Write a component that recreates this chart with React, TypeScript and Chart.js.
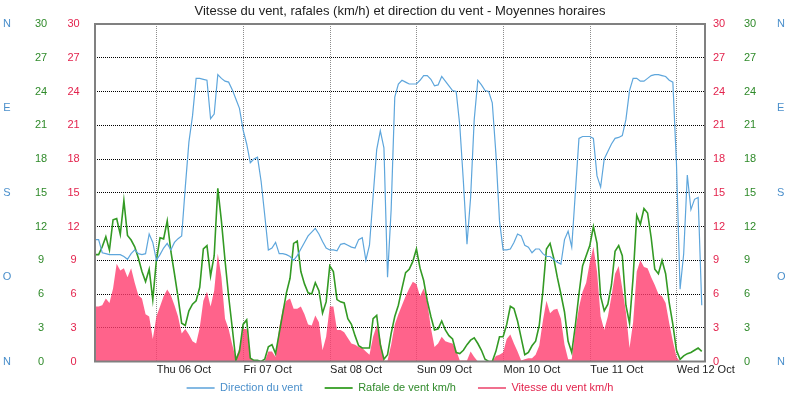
import React, { useEffect, useRef } from 'react';
import { Chart, registerables } from 'chart.js';

Chart.register(...registerables);

const TITLE = 'Vitesse du vent, rafales (km/h) et direction du vent - Moyennes horaires';
const dayLabels = ['Thu 06 Oct', 'Fri 07 Oct', 'Sat 08 Oct', 'Sun 09 Oct', 'Mon 10 Oct', 'Tue 11 Oct', 'Wed 12 Oct'];
const firstMidnightHour = 17.1; // hours after first hourly sample
const axisHours = 168.9;
const speedTicks = [0, 3, 6, 9, 12, 15, 18, 21, 24, 27, 30];
const directionLabels = ['N', 'O', 'S', 'E', 'N'];
const seriesLabels = ['Direction du vent', 'Rafale de vent km/h', 'Vitesse du vent km/h'];

// Vitesse du vent (km/h), hourly
const vitesse = [
  4.9, 4.9, 5.0, 5.6, 5.2, 6.5, 8.7, 8.1, 8.3, 7.5,
  8.3, 7.0, 5.9, 5.6, 4.2, 4.0, 2.0, 4.0, 4.9, 5.8,
  6.4, 5.9, 5.0, 4.0, 2.5, 2.9, 2.4, 1.8, 1.6, 3.0,
  5.4, 6.2, 4.9, 6.3, 9.6, 7.5, 3.8, 2.9, 1.5, 0.3,
  1.2, 2.9, 2.9, 0.4, 0, 0, 0, 0, 0.9, 0.9,
  0.4, 3.0, 4.7, 5.4, 5.6, 4.7, 4.7, 4.9, 4.2, 3.3,
  3.2, 4.1, 3.5, 1.0, 2.2, 4.9, 4.9, 2.8, 2.8, 2.6,
  2.1, 1.6, 1.5, 1.3, 1.2, 0.9, 0.6, 2.2, 3.2, 2.0,
  0.1, 0.1, 1.5, 3.3, 4.2, 5.0, 5.8, 6.5, 7.1, 6.9,
  5.8, 6.5, 5.3, 3.0, 1.3, 1.6, 2.2, 1.8, 1.7, 1.6,
  1.0, 0.1, 0.1, 0.1, 0.9, 0.4, 0, 0, 0, 0,
  0, 0.5, 0.6, 0.8, 2.0, 2.4, 1.6, 0.9, 0.1, 0.2,
  0.3, 0.3, 0.6, 1.4, 3.6, 5.4, 4.3, 4.6, 4.7, 3.8,
  1.5, 0.2, 0.2, 2.8, 4.8, 6.2, 7.0, 8.8, 10.2, 8.0,
  4.0, 2.8, 4.0, 5.8, 7.8, 8.5, 6.5, 4.4, 1.2, 3.5,
  8.0, 9.0, 8.4, 8.3, 7.5, 6.8, 6.0, 5.8, 5.2, 3.4,
  1.8, 0.4, 0, 0, 0, 0, 0, 0, 0,
];

// Rafale de vent (km/h), hourly
const rafale = [
  9.5, 9.5, 10.2, 11.1, 9.9, 12.6, 12.7, 11.3, 14.3, 11.2,
  10.8, 10.2, 9.2, 8.0, 7.1, 8.2, 5.5, 9.0, 11.0, 10.9,
  12.5, 9.8, 7.8, 5.7, 3.4, 3.2, 4.5, 5.1, 5.4, 6.6,
  10.0, 10.3, 7.6, 9.4, 15.4, 12.5, 9.0, 5.8, 3.0, 0.1,
  0.9, 3.3, 3.7, 0.3, 0.1, 0.1, 0.0, 0.2, 1.3, 1.5,
  0.7, 2.5, 4.3, 6.1, 7.4, 10.5, 10.7, 8.0, 6.9, 6.1,
  6.0, 7.0, 6.3, 4.3, 5.3, 8.5, 8.0, 5.5, 5.3, 5.2,
  3.8, 3.3, 2.3, 1.4, 1.2, 1.2, 1.2, 3.8, 4.1, 1.5,
  0.2, 0.6, 2.5, 4.0, 5.0, 6.5, 7.9, 8.2, 8.9, 10.0,
  8.3, 7.2, 5.4, 4.0, 2.8, 2.9, 3.6, 2.8, 2.3, 2.0,
  0.8, 0.7, 1.0, 1.5, 1.9, 2.1, 1.6, 1.0, 0.2, 0,
  0, 0.9, 2.2, 2.2, 3.3, 4.9, 4.7, 3.6, 2.1, 0.6,
  0.8, 1.4, 1.8, 3.2, 6.2, 10.0, 10.5, 9.2, 7.5, 6.0,
  4.4, 1.8, 0.8, 3.2, 6.0, 8.5, 9.4, 10.3, 12.0, 10.5,
  5.8, 4.5, 5.1, 6.8, 9.8, 10.3, 9.4, 5.0, 3.4, 7.5,
  13.0, 12.2, 13.6, 13.2, 11.0, 8.2, 7.8, 9.0, 7.8, 5.2,
  3.3, 1.0, 0.2, 0.5, 0.7, 0.8, 1.0, 1.2, 0.9,
];

// Direction du vent (degrees), hourly
const direction = [
  130, 130, 116, 115, 114, 114, 114, 114, 112, 109,
  115, 119, 115, 114, 115, 136, 127, 108, 114, 121,
  126, 119, 127, 131, 134, 186, 234, 262, 302, 302,
  301, 300, 259, 264, 306, 302, 299, 298, 290, 280,
  270, 247, 232, 212, 216, 218, 192, 156, 119, 121,
  127, 115, 115, 114, 112, 108, 113, 120, 127, 134,
  138, 142, 136, 128, 121, 119, 119, 118, 125, 126,
  124, 122, 121, 130, 132, 108, 124, 176, 226, 246,
  228, 90, 162, 282, 296, 300, 298, 296, 296, 296,
  300, 305, 305, 301, 294, 295, 304, 299, 294, 289,
  288, 252, 192, 125, 175, 258, 300, 295, 289, 288,
  276, 222, 150, 119, 119, 120, 127, 136, 134, 124,
  122, 116, 120, 120, 115, 112, 112, 109, 106, 104,
  130, 139, 122, 180, 238, 240, 240, 240, 238, 198,
  186, 216, 224, 232, 238, 239, 241, 258, 289, 302,
  302, 299, 299, 302, 305, 306, 306, 305, 304, 300,
  298, 211, 77, 115, 199, 162, 173, 175, 60,
];

const BLUE_LINE = '#5ea6dc';
const BLUE_TEXT = '#4a8fcb';
const GREEN_LINE = '#339a24';
const GREEN_TEXT = '#2f8a2a';
const RED_FILL = 'rgba(255, 60, 110, 0.8)';
const RED_TEXT = '#e3234d';
const RED_LEGEND = '#f0708e';
const BLUE_LEGEND = '#84b9e3';
const GREEN_LEGEND = '#4aa83a';

const FONT = '"Liberation Sans", Arial, sans-serif';

const toPoints = (arr: number[]) => arr.map((v, i) => ({ x: i, y: v }));

const fixedWidth = (w: number) => (scale: any) => {
  scale.width = w;
};

const framePlugin = {
  id: 'frame',
  afterDatasetsDraw(chart: any) {
    const { ctx, chartArea } = chart;
    ctx.save();
    ctx.strokeStyle = '#808080';
    ctx.lineWidth = 2;
    ctx.strokeRect(chartArea.left, chartArea.top, chartArea.right - chartArea.left, chartArea.bottom - chartArea.top);
    ctx.restore();
  },
};

const legendPlace = {
  id: 'legendPlace',
  beforeLayout(chart: any) {
    const lg = chart.legend;
    if (lg && !lg.__patched) {
      const orig = lg.fit.bind(lg);
      lg.fit = () => {
        orig();
        lg.height = 16;
      };
      lg.__patched = true;
    }
  },
  afterLayout(chart: any) {
    const lg = chart.legend;
    if (lg) {
      lg.top = lg.top - 21.5;
      lg.height = lg.bottom - lg.top;
    }
  },
};

export default function App() {
  const ref = useRef<HTMLCanvasElement | null>(null);

  useEffect(() => {
    if (!ref.current) return;
    Chart.defaults.font.family = FONT;
    const speedAxis = (color: string, position: 'left' | 'right', weight: number, width: number, padding: number, grid: boolean) => ({
      type: 'linear' as const,
      position,
      weight,
      min: 0,
      max: 30,
      afterBuildTicks: (s: any) => {
        s.ticks = speedTicks.map((v) => ({ value: v }));
      },
      afterFit: fixedWidth(width),
      ticks: {
        color,
        padding,
        font: { size: 11 },
        crossAlign: position === 'left' ? ('center' as const) : ('near' as const),
      },
      grid: grid
        ? { display: true, color: '#000000', lineWidth: 1, drawTicks: false }
        : { display: false, drawTicks: false },
      border: { display: false, dash: [1, 1] },
    });
    const dirAxis = (position: 'left' | 'right', width: number, padding: number) => ({
      type: 'linear' as const,
      position,
      weight: 2,
      min: 0,
      max: 360,
      afterBuildTicks: (s: any) => {
        s.ticks = directionLabels.map((_, i) => ({ value: i * 90 }));
      },
      afterFit: fixedWidth(width),
      ticks: {
        color: BLUE_TEXT,
        padding,
        font: { size: 11 },
        crossAlign: position === 'left' ? ('center' as const) : ('near' as const),
        callback: (_v: any, i: number) => directionLabels[i],
      },
      grid: { display: false, drawTicks: false },
      border: { display: false },
    });

    const chart = new Chart(ref.current, {
      type: 'line',
      data: {
        datasets: [
          {
            label: seriesLabels[0],
            data: toPoints(direction),
            yAxisID: 'yD',
            borderColor: BLUE_LINE,
            borderWidth: 1.2,
            pointRadius: 0,
            fill: false,
            tension: 0,
          },
          {
            label: seriesLabels[1],
            data: toPoints(rafale),
            yAxisID: 'yG',
            borderColor: GREEN_LINE,
            borderWidth: 1.6,
            pointRadius: 0,
            fill: false,
            tension: 0,
          },
          {
            label: seriesLabels[2],
            data: toPoints(vitesse),
            yAxisID: 'y',
            borderColor: RED_FILL,
            backgroundColor: RED_FILL,
            borderWidth: 0,
            pointRadius: 0,
            fill: 'origin',
            tension: 0,
          },
        ],
      },
      options: {
        animation: false,
        responsive: false,
        maintainAspectRatio: false,
        layout: { padding: 0 },
        plugins: {
          title: {
            display: true,
            text: TITLE,
            color: '#222222',
            font: { size: 13, weight: 'normal' },
            padding: { top: 4, bottom: 4.4 },
          },
          legend: {
            position: 'bottom',
            labels: {
              boxWidth: 28,
              boxHeight: 2,
              padding: 22,
              font: { size: 11 },
              generateLabels: () => [
                { text: seriesLabels[0], fillStyle: BLUE_LEGEND, strokeStyle: BLUE_LEGEND, lineWidth: 0, fontColor: BLUE_TEXT, hidden: false, datasetIndex: 0 },
                { text: seriesLabels[1], fillStyle: GREEN_LEGEND, strokeStyle: GREEN_LEGEND, lineWidth: 0, fontColor: GREEN_TEXT, hidden: false, datasetIndex: 1 },
                { text: seriesLabels[2], fillStyle: RED_LEGEND, strokeStyle: RED_LEGEND, lineWidth: 0, fontColor: RED_TEXT, hidden: false, datasetIndex: 2 },
              ] as any,
            },
          },
          tooltip: { enabled: false },
        },
        scales: {
          x: {
            type: 'linear',
            min: 0,
            max: axisHours,
            afterBuildTicks: (s: any) => {
              s.ticks = dayLabels.map((_, i) => ({ value: firstMidnightHour + 24 * i }));
            },
            afterFit: (s: any) => {
              s.height = 20.5;
            },
            ticks: {
              align: 'start',
              autoSkip: false,
              maxRotation: 0,
              padding: 1.5,
              color: '#222222',
              font: { size: 11 },
              callback: (_v: any, i: number) => dayLabels[i],
            },
            grid: { color: '#8c8c8c', lineWidth: 1, drawTicks: false },
            border: { display: false, dash: [1, 1] },
          },
          y: speedAxis(RED_TEXT, 'left', 0, 37, 15.3, true),
          yG: speedAxis(GREEN_TEXT, 'left', 1, 34, 10.8, false),
          yD: dirAxis('left', 24, 12.7),
          yR: speedAxis(RED_TEXT, 'right', 0, 32, 8, false),
          yGR: speedAxis(GREEN_TEXT, 'right', 1, 32, 7, false),
          yDR: dirAxis('right', 31, 8),
        } as any,
      },
      plugins: [framePlugin, legendPlace],
    });
    return () => chart.destroy();
  }, []);

  return (
    <div style={{ position: 'absolute', left: 0, top: 0, width: 800, height: 398, background: '#ffffff' }}>
      <canvas ref={ref} width={800} height={398} style={{ display: 'block' }} />
    </div>
  );
}
